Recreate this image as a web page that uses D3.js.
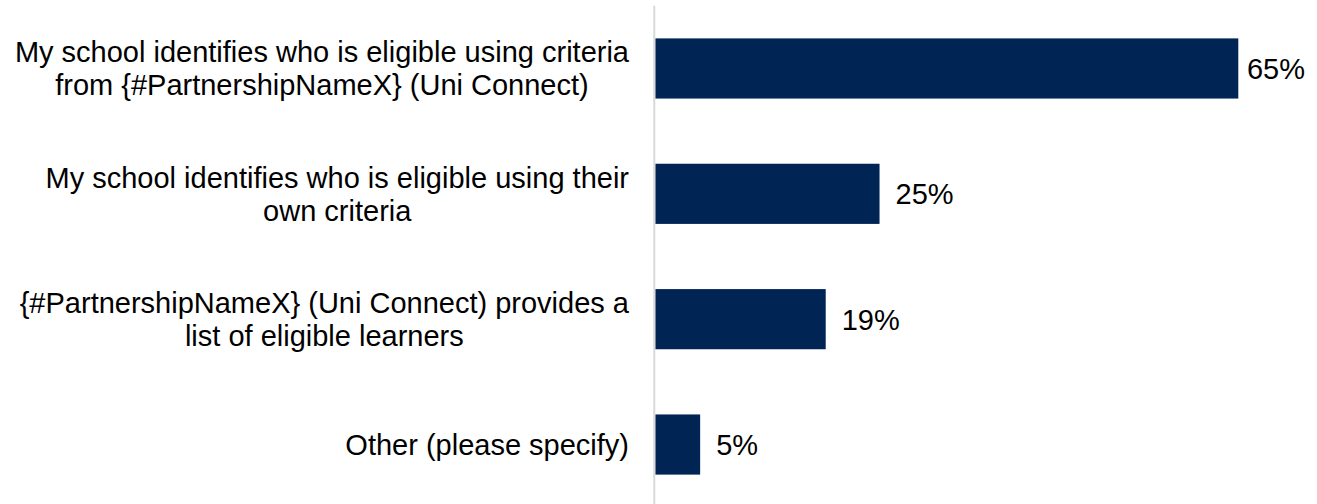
<!DOCTYPE html>
<html>
<head>
<meta charset="utf-8">
<script src="https://cdn.jsdelivr.net/npm/d3@7"></script>
<style>
  body { margin: 0; background: #fff; }
  svg { display: block; font-family: "Liberation Sans", Arial, sans-serif; }
</style>
</head>
<body>
<svg width="1317" height="504"></svg>
<script>
// data
const categories = [
    ['My school identifies who is eligible using criteria', 'from {#PartnershipNameX} (Uni Connect)'],
    ['My school identifies who is eligible using their', 'own criteria'],
    ['{#PartnershipNameX} (Uni Connect) provides a', 'list of eligible learners'],
    ['Other (please specify)']
];
const values = [65, 25, 19, 5];
const valueLabels = ['65%', '25%', '19%', '5%'];

const W = 1317;
const fontSize = 29;
const lineH = 33;
const labelRight = 629;
const barColor = '#002554';

const svg = d3.select('svg');

const keys = categories.map((c, i) => i);

const yScale = d3.scaleBand()
    .domain(keys)
    .range([5.8, 507.2])
    .paddingInner(0.52)
    .paddingOuter(0.26);

const xScale = d3.scaleLinear()
    .domain([0, d3.max(values)])
    .range([655.3, 1238.3]);

// bars
svg.selectAll('rect.bar')
    .data(values)
    .enter()
    .append('rect')
    .attr('class', 'bar')
    .attr('x', xScale(0))
    .attr('y', (d, i) => yScale(i))
    .attr('width', d => xScale(d) - xScale(0))
    .attr('height', yScale.bandwidth())
    .attr('fill', barColor);

// vertical axis line
svg.append('line')
    .attr('x1', xScale(0) - 1)
    .attr('x2', xScale(0) - 1)
    .attr('y1', yScale.range()[0])
    .attr('y2', yScale.range()[1])
    .attr('stroke', '#d9d9d9')
    .attr('stroke-width', 2);

// category labels - block right aligned, lines centred inside the block
const labels = svg.selectAll('text.cat')
    .data(categories)
    .enter()
    .append('text')
    .attr('class', 'cat')
    .attr('text-anchor', 'middle')
    .attr('font-size', fontSize)
    .attr('fill', '#000');

labels.each(function(lines, i){
    const cy = yScale(i) + yScale.bandwidth() / 2;
    const el = d3.select(this);
    const spans = lines.map((ln, j) => {
        return el.append('tspan')
            .attr('y', cy + (j - (lines.length - 1) / 2) * lineH)
            .attr('dy', '0.36em')
            .text(ln);
    });
    const maxW = d3.max(spans, s => s.node().getComputedTextLength());
    spans.forEach(s => s.attr('x', labelRight - maxW / 2));
});

// value labels
svg.selectAll('text.val')
    .data(values)
    .enter()
    .append('text')
    .attr('class', 'val')
    .attr('font-size', fontSize)
    .attr('fill', '#000')
    .attr('y', (d, i) => yScale(i) + yScale.bandwidth() / 2)
    .attr('dy', '0.36em')
    .text((d, i) => valueLabels[i])
    .attr('x', function(d){
        const w = this.getComputedTextLength();
        return Math.min(xScale(d) + 16, W - 12 - w);
    });
</script>
</body>
</html>
